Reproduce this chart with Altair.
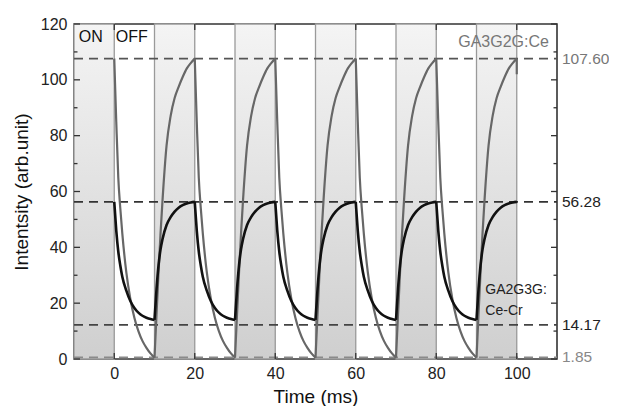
import altair as alt
import pandas as pd

# ---- data ----
t_offsets = [0, 0.5, 1, 1.5, 2, 3, 4, 5, 6, 7, 8, 9, 10]
gray_decay = [107.6, 85, 65, 54, 45, 31, 21.5, 14.8, 10, 6.5, 4, 2, 0.5]
gray_rise = [0.5, 16, 31, 45, 57, 76.5, 87, 93.5, 97.5, 101, 104, 106, 107.6]
black_decay = [56.28, 46, 38.5, 33.5, 29.5, 24.5, 20.8, 18.3, 16.6, 15.5, 14.8, 14.3, 14.0]
black_rise = [14.0, 25, 33.5, 39.3, 43, 48, 50.8, 52.8, 54.2, 55.1, 55.7, 56.05, 56.28]
cycle_starts = [0, 20, 40, 60, 80]
on_starts = [-10, 10, 30, 50, 70, 90]
on_length = 10
ref_values = [107.6, 56.28, 12.2, 0.6]
ref_labels = ["107.60", "56.28", "14.17", "1.85"]
ref_colors = ["#555555", "#333333", "#444444", "#8a8a8a"]
label_colors = ["#777777", "#222222", "#222222", "#888888"]
end_drop = [107.6, 102]
y_ticks = [0, 20, 40, 60, 80, 100, 120]
x_ticks = [0, 20, 40, 60, 80, 100]

W, H = 483, 335
FONT = "Liberation Sans"

rows = []
for c in cycle_starts:
    for name, dec, ris in [("gray", gray_decay, gray_rise), ("black", black_decay, black_rise)]:
        for t, v in zip(t_offsets, dec):
            rows.append({"t": c + t, "v": v, "series": name, "seg": f"{name}-d-{c}"})
        for t, v in zip(t_offsets, ris):
            rows.append({"t": c + 10 + t, "v": v, "series": name, "seg": f"{name}-r-{c}"})
curves = pd.DataFrame(rows)

on_df = pd.DataFrame({"x0": on_starts, "x1": [s + on_length for s in on_starts]})
ref_df = pd.DataFrame({"y": ref_values, "label": ref_labels, "c": ref_colors, "lc": label_colors})

xs = alt.Scale(domain=[-10, 110], nice=False, zero=False)
ys = alt.Scale(domain=[0, 120], nice=False)

X = alt.X("x0:Q", scale=xs,
          axis=alt.Axis(values=x_ticks, title="Time (ms)", ticks=False, domain=False, grid=False,
                        labelFontSize=16, labelColor="#222", labelPadding=6, titleFontSize=19,
                        titleFontWeight="normal", titleColor="#111", titlePadding=6, labelFont=FONT,
                        titleFont=FONT))
Y = alt.Y("y0:Q", scale=ys,
          axis=alt.Axis(values=y_ticks, title="Intentsity (arb.unit)", ticks=False, domain=False, grid=False,
                        labelFontSize=16, labelColor="#222", labelPadding=7, titleFontSize=19,
                        titleFontWeight="normal", titleColor="#111", titlePadding=9, labelFont=FONT,
                        titleFont=FONT))

shade = alt.Chart(on_df).transform_calculate(y0="0", y1="120").mark_rect(
    fill=alt.Gradient(gradient="linear",
                      stops=[alt.GradientStop(color="#f4f4f4", offset=0),
                             alt.GradientStop(color="#cfcfcf", offset=1)],
                      x1=0, x2=0, y1=0, y2=1),
    stroke="#9a9a9a", strokeWidth=1.3
).encode(x=X, x2="x1:Q", y=Y, y2="y1:Q")

dashed = alt.Chart(ref_df).mark_rule(strokeDash=[9, 6], strokeWidth=1.8).encode(
    y=alt.Y("y:Q", scale=ys), x=alt.value(0), x2=alt.value(W),
    color=alt.Color("c:N", scale=None))

gray_line = alt.Chart(curves[curves["series"] == "gray"]).mark_line(
    color="#676767", strokeWidth=2.2, interpolate="monotone").encode(
    x=alt.X("t:Q", scale=xs), y=alt.Y("v:Q", scale=ys), detail="seg:N")
black_line = alt.Chart(curves[curves["series"] == "black"]).mark_line(
    color="#111111", strokeWidth=2.6, interpolate="monotone").encode(
    x=alt.X("t:Q", scale=xs), y=alt.Y("v:Q", scale=ys), detail="seg:N")

drop = alt.Chart(pd.DataFrame({"x": [100], "a": [end_drop[0]], "b": [end_drop[1]]})).mark_rule(
    color="#676767", strokeWidth=2.2).encode(
    x=alt.X("x:Q", scale=xs), y=alt.Y("a:Q", scale=ys), y2="b:Q")

right_labels = alt.Chart(ref_df).mark_text(align="left", baseline="middle", fontSize=15.5, font=FONT).encode(
    y=alt.Y("y:Q", scale=ys), x=alt.value(W + 5), text="label:N", color=alt.Color("lc:N", scale=None))

notes = pd.DataFrame({
    "x": [-8.8, 0.4, 108.0, 92.2, 92.2],
    "y": [115.5, 115.5, 113.4, 24.6, 17.3],
    "text": ["ON", "OFF", "GA3G2G:Ce", "GA2G3G:", "Ce-Cr"],
    "al": ["left", "left", "right", "left", "left"],
    "col": ["#111111", "#111111", "#777777", "#222222", "#222222"],
    "size": [16, 16, 16, 14, 14],
})
notes_l = alt.Chart(notes[notes["al"] == "left"]).mark_text(align="left", baseline="middle", font=FONT).encode(
    x=alt.X("x:Q", scale=xs), y=alt.Y("y:Q", scale=ys), text="text:N",
    color=alt.Color("col:N", scale=None), size=alt.Size("size:Q", scale=None))
notes_r = alt.Chart(notes[notes["al"] == "right"]).mark_text(align="right", baseline="middle", font=FONT).encode(
    x=alt.X("x:Q", scale=xs), y=alt.Y("y:Q", scale=ys), text="text:N",
    color=alt.Color("col:N", scale=None), size=alt.Size("size:Q", scale=None))

ymajor = pd.DataFrame({"v": y_ticks})
yminor = pd.DataFrame({"v": [10, 30, 50, 70, 90, 110]})
xmajor = pd.DataFrame({"v": x_ticks})
tc = "#333333"
ticks = [
    alt.Chart(ymajor).mark_rule(color=tc, strokeWidth=1.3).encode(y=alt.Y("v:Q", scale=ys), x=alt.value(0), x2=alt.value(6)),
    alt.Chart(yminor).mark_rule(color=tc, strokeWidth=1.3).encode(y=alt.Y("v:Q", scale=ys), x=alt.value(0), x2=alt.value(3.5)),
    alt.Chart(ymajor).mark_rule(color=tc, strokeWidth=1.3).encode(y=alt.Y("v:Q", scale=ys), x=alt.value(W - 6), x2=alt.value(W)),
    alt.Chart(yminor).mark_rule(color=tc, strokeWidth=1.3).encode(y=alt.Y("v:Q", scale=ys), x=alt.value(W - 3.5), x2=alt.value(W)),
    alt.Chart(xmajor).mark_rule(color=tc, strokeWidth=1.3).encode(x=alt.X("v:Q", scale=xs), y=alt.value(0), y2=alt.value(6)),
    alt.Chart(xmajor).mark_rule(color=tc, strokeWidth=1.3).encode(x=alt.X("v:Q", scale=xs), y=alt.value(H - 6), y2=alt.value(H)),
]

chart = alt.layer(shade, dashed, gray_line, black_line, drop, right_labels, notes_l, notes_r, *ticks).properties(
    width=W, height=H,
    autosize=alt.AutoSizeParams(type="none"),
    padding={"left": 66, "top": 16, "right": 52, "bottom": 47},
    background="white",
).configure_view(stroke="#333333", strokeWidth=1.6)

chart.save("out.html", embed_options={"renderer": "svg", "actions": False})
